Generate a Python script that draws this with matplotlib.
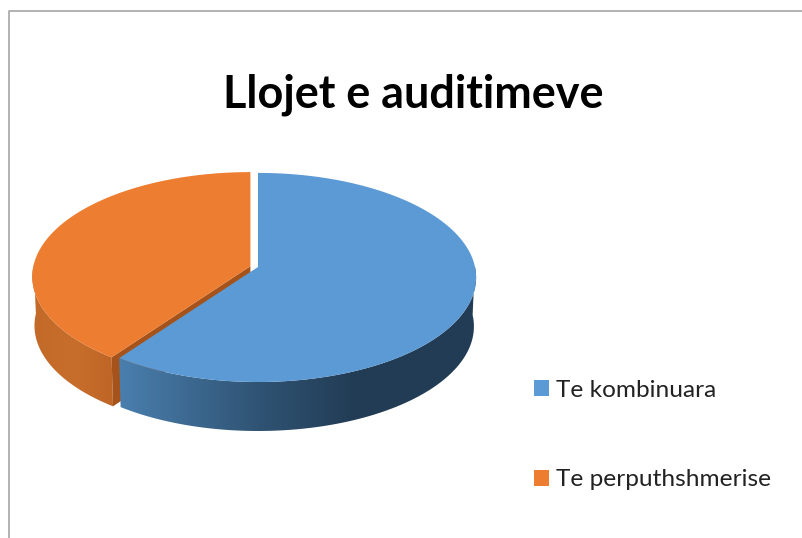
import numpy as np
import matplotlib
matplotlib.use("Agg")
import matplotlib.pyplot as plt
from matplotlib.colors import LinearSegmentedColormap
from matplotlib.patches import Patch, Polygon

title = "Llojet e auditimeve"
labels = ["Te kombinuara", "Te perputhshmerise"]
values = [60, 40]
colors = ["#5b9ad5", "#ed7d31"]

# pie geometry in pixels
cx, cy = 258, 267
rx, ry = 217, 103.5
persp = 0.1
depth = 49
bottom_scale = 0.99  # lower rim is a bit narrower than the top one
explode = [0, 8]

blue_wall = LinearSegmentedColormap.from_list(
    "b", [(0, "#4a7fae"), (0.6, "#2f5373"), (1, "#223c55")])
orange_wall = LinearSegmentedColormap.from_list(
    "o", [(0, "#c26a29"), (0.5, "#c86e2c"), (1, "#bd6526")])


def project(theta):
    # theta clockwise from 12 o'clock, tilted disc with a little perspective
    u = np.sin(theta)
    v = -np.cos(theta)
    w = 1 - persp * v
    return cx + rx * u / w, cy + ry * v / w


fig = plt.figure(figsize=(8.02, 5.38), dpi=100)
ax = fig.add_axes([0, 0, 1, 1])
ax.axis("off")

# chart frame
ax.plot([8.5, 8.5, 802], [538, 11, 11], color="#a6a6a6", lw=1.2)

fracs = np.array(values) / sum(values)
edges = np.concatenate([[0], np.cumsum(fracs)]) * 2 * np.pi


def draw_wedge(i):
    t = np.linspace(edges[i], edges[i + 1], 240)
    mid = (edges[i] + edges[i + 1]) / 2
    dx = explode[i] * np.sin(mid)
    dy = -explode[i] * np.cos(mid) * 0.33
    x, y = project(t)
    x, y = x + dx, y + dy

    # side wall: only the front half of the rim can be seen
    front = -np.cos(t) >= -0.02
    fx, fy = x[front], y[front]
    bx = cx + dx + (fx - cx - dx) * bottom_scale
    wall = np.c_[np.r_[fx, bx[::-1]], np.r_[fy, fy[::-1] + depth]]
    cmap = blue_wall if i == 0 else orange_wall
    x0, x1 = (118, 355) if i == 0 else (32, 118)
    x_start, x_end = (110, 485) if i == 0 else (20, 125)
    grad = np.clip((np.linspace(x_start, x_end, 256) - x0) / (x1 - x0), 0, 1)
    im = ax.imshow(grad[None, :], extent=(x_start, x_end, 450, 250), cmap=cmap, vmin=0, vmax=1,
                   aspect="auto", interpolation="bilinear", zorder=2 - i)
    patch = Polygon(wall, transform=ax.transData, fc="none", ec="none")
    ax.add_patch(patch)
    im.set_clip_path(patch)

    if i == 1:
        # cut face of the pulled out slice
        ex, ey = project(edges[i])
        ex_b = cx + dx + (ex + dx - cx - dx) * bottom_scale
        ax.fill([cx + dx, ex + dx, ex_b, cx + dx],
                [cy + dy, ey + dy, ey + dy + depth, cy + dy + depth],
                color="#a5531b", lw=0, zorder=1.5)
    ax.fill(np.r_[cx + dx, x], np.r_[cy + dy, y], color=colors[i], lw=0, zorder=3 + i)


draw_wedge(1)
draw_wedge(0)

ax.set_xlim(0, 802)
ax.set_ylim(538, 0)

ax.text(413.5, 107, title, family="Lato", fontweight="bold", fontsize=32.4,
        ha="center", va="baseline", color="black")

handles = [Patch(facecolor=c, edgecolor="none") for c in colors]
ax.legend(handles, labels, loc="upper left", bbox_to_anchor=(534 / 802, 1 - 380 / 538),
          frameon=False, prop={"family": "Lato", "size": 17.6}, handlelength=0.62,
          handleheight=0.62, handletextpad=0.3, labelspacing=2.79, borderpad=0,
          borderaxespad=0, labelcolor="#222222")

fig.savefig("out.png", dpi=100)
